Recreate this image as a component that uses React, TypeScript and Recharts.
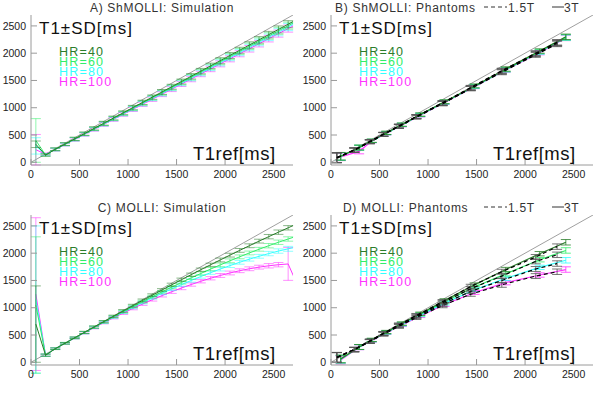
import React from "react";
import { LineChart, Line, XAxis, YAxis, ErrorBar } from "recharts";

// simulation T1 grid (ms); the last point lies past the axis and is clipped
const simT1 = [50, 150, 250, 350, 450, 550, 650, 750, 850, 950, 1050, 1150, 1250, 1350, 1450, 1550, 1650, 1750, 1850, 1950, 2050, 2150, 2250, 2350, 2450, 2550, 2650, 2750];

// A) ShMOLLI simulation
const shSim40 = [330, 130, 239, 334, 430, 525, 621, 716, 812, 907, 1003, 1098, 1194, 1289, 1385, 1480, 1576, 1671, 1767, 1862, 1958, 2053, 2149, 2244, 2340, 2435, 2531, 2626];
const shSim60 = [400, 135, 236, 331, 425, 520, 614, 709, 803, 898, 992, 1087, 1181, 1276, 1370, 1465, 1559, 1654, 1748, 1843, 1937, 2032, 2126, 2221, 2315, 2410, 2504, 2599];
const shSim80 = [300, 140, 234, 327, 421, 514, 608, 701, 795, 888, 982, 1075, 1169, 1262, 1356, 1449, 1543, 1636, 1730, 1823, 1917, 2010, 2104, 2197, 2291, 2384, 2478, 2571];
const shSim100 = [230, 150, 231, 324, 416, 509, 601, 694, 786, 879, 971, 1064, 1156, 1249, 1341, 1434, 1526, 1619, 1711, 1804, 1896, 1989, 2081, 2174, 2266, 2359, 2451, 2544];
const errShSim = [0, 20, 25, 25, 30, 30, 30, 35, 35, 35, 40, 40, 40, 45, 45, 45, 50, 50, 50, 55, 55, 55, 60, 60, 60, 65, 65];
const errShSimFirst = [60, 400, 150, 280];

// C) MOLLI simulation
const moSim40 = [700, 130, 248, 348, 449, 548, 647, 746, 844, 941, 1038, 1135, 1230, 1325, 1420, 1513, 1605, 1697, 1787, 1876, 1964, 2051, 2136, 2221, 2303, 2385, 2465, 2545];
const moSim60 = [1050, 130, 249, 349, 447, 545, 642, 739, 834, 928, 1021, 1112, 1203, 1291, 1378, 1463, 1547, 1628, 1708, 1785, 1860, 1933, 2004, 2072, 2137, 2200, 2260, 2318];
const moSim80 = [1150, 130, 249, 348, 446, 543, 639, 733, 826, 918, 1007, 1095, 1181, 1264, 1345, 1423, 1499, 1572, 1642, 1709, 1772, 1833, 1890, 1943, 1993, 2039, 2080, 2118];
const moSim100 = [1250, 130, 249, 347, 444, 540, 633, 725, 815, 902, 987, 1068, 1147, 1222, 1293, 1361, 1425, 1485, 1540, 1591, 1637, 1678, 1714, 1744, 1769, 1789, 1802, 1400];
const errMoSim = [0, 20, 15, 15, 15, 20, 20, 20, 20, 25, 25, 25, 25, 25, 30, 30, 30, 30, 30, 35, 35, 35, 35, 35, 40, 40, 40];
const errMoSimFirst = [700, 1250, 1350, 1400];
const errMoSimLast = [40, 40, 45, 300];

// phantoms, T1ref (ms)
const ph15T1 = [60, 240, 400, 540, 700, 880, 1150, 1440, 1760, 2110, 2330];
const ph3T1 = [100, 290, 420, 570, 730, 920, 1170, 1480, 1800, 2150, 2420];
const errPh15 = [90, 40, 35, 35, 35, 35, 40, 40, 45, 45, 50];
const errPh3 = [70, 45, 30, 30, 30, 30, 35, 35, 40, 40, 50];

// B) ShMOLLI phantoms
const shPh15_40 = [85, 225, 380, 515, 665, 840, 1090, 1370, 1680, 2000, 2200];
const shPh15_60 = [85, 224, 378, 513, 662, 836, 1085, 1362, 1670, 1990, 2190];
const shPh15_80 = [83, 222, 376, 510, 658, 832, 1080, 1355, 1660, 1980, 2180];
const shPh15_100 = [80, 220, 374, 508, 655, 828, 1075, 1350, 1650, 1970, 2170];
const shPh3_40 = [110, 270, 395, 540, 690, 875, 1110, 1400, 1710, 2040, 2300];
const shPh3_60 = [108, 268, 393, 537, 687, 870, 1105, 1395, 1700, 2030, 2290];
const shPh3_80 = [105, 266, 390, 534, 684, 866, 1100, 1390, 1695, 2020, 2285];
const shPh3_100 = [100, 200, 388, 531, 680, 862, 1095, 1385, 1690, 2010, 2280];

// D) MOLLI phantoms
const moPh15_40 = [90, 235, 390, 530, 685, 860, 1110, 1390, 1660, 1930, 2120];
const moPh15_60 = [90, 235, 388, 527, 678, 850, 1090, 1350, 1580, 1850, 1970];
const moPh15_80 = [90, 232, 384, 520, 668, 835, 1065, 1300, 1500, 1710, 1810];
const moPh15_100 = [85, 230, 380, 515, 658, 820, 1040, 1250, 1420, 1580, 1660];
const moPh3_40 = [60, 280, 410, 555, 710, 890, 1130, 1420, 1700, 1990, 2200];
const moPh3_60 = [60, 280, 408, 552, 705, 880, 1110, 1380, 1620, 1880, 2050];
const moPh3_80 = [55, 278, 404, 546, 695, 865, 1085, 1330, 1540, 1740, 1870];
const moPh3_100 = [40, 275, 400, 540, 685, 850, 1060, 1280, 1460, 1600, 1700];

const hrNames = ["HR=40", "HR=60", "HR=80", "HR=100"];
const hrColors = ["#2b7d2b", "#33ee6a", "#33ffff", "#ff33ff"];
const majorTicks = [0, 500, 1000, 1500, 2000, 2500];
const minorTicks = [0, 100, 200, 300, 400, 500, 600, 700, 800, 900, 1000, 1100, 1200, 1300, 1400, 1500, 1600, 1700, 1800, 1900, 2000, 2100, 2200, 2300, 2400, 2500, 2600, 2700];
const diagT1 = [0, 2700];

const FONT = "'Liberation Sans', Arial, sans-serif";
const XD = [0, 2700];
const YD = [-50, 2700];

type Pt = { x: number; y: number; e?: number };
type Ser = { id: string; data: Pt[]; color: string; errColor: string; errOpacity: number; width: number; dash?: string };

const pts = (xs: number[], ys: number[], es: (number | undefined)[]): Pt[] => xs.map((x, i) => ({ x, y: ys[i], e: es[i] }));

function simSeries(prefix: string, ys: number[][], errs: number[], first: number[], last?: number[]): Ser[] {
  // HR=100 first so HR=40 sits on top
  return [3, 2, 1, 0].map((k) => ({
    id: prefix + k,
    data: pts(simT1, ys[k], simT1.map((_, i) => (i === 0 ? first[k] : last && i === 26 ? last[k] : errs[i]))),
    color: hrColors[k],
    errColor: hrColors[k],
    errOpacity: 0.55,
    width: 1,
  }));
}

function phantomSeries(prefix: string, y15: number[][], y3: number[][]): Ser[] {
  const solid = [3, 2, 1, 0].map((k) => ({
    id: prefix + "3T" + k,
    data: pts(ph3T1, y3[k], errPh3),
    color: hrColors[k],
    errColor: hrColors[k],
    errOpacity: 0.8,
    width: 1.2,
  }));
  const dashed = [3, 2, 1, 0].map((k) => ({
    id: prefix + "15T" + k,
    data: pts(ph15T1, y15[k], errPh15),
    color: "#000",
    errColor: "#555",
    errOpacity: 0.8,
    width: 1.2,
    dash: "4 3",
  }));
  return [...solid, ...dashed];
}

const panelA = simSeries("a", [shSim40, shSim60, shSim80, shSim100], errShSim, errShSimFirst);
const panelC = simSeries("c", [moSim40, moSim60, moSim80, moSim100], errMoSim, errMoSimFirst, errMoSimLast);
const panelB = phantomSeries("b", [shPh15_40, shPh15_60, shPh15_80, shPh15_100], [shPh3_40, shPh3_60, shPh3_80, shPh3_100]);
const panelD = phantomSeries("d", [moPh15_40, moPh15_60, moPh15_80, moPh15_100], [moPh3_40, moPh3_60, moPh3_80, moPh3_100]);

const tickText = { fill: "#222", fontSize: 10.5, fontFamily: FONT };

function Panel({ left, top, title, titleX, centred, fields, series }: {
  left: number; top: number; title: string; titleX: number; centred: boolean; fields: boolean; series: Ser[];
}) {
  const diag = diagT1.map((v) => ({ x: v, y: v }));
  return (
    <div style={{ position: "absolute", left, top, width: 300, height: 200 }}>
      <LineChart width={300} height={200} margin={{ top: 15, right: 7, bottom: 0, left: 0 }}>
        <XAxis xAxisId="b" type="number" dataKey="x" domain={XD} allowDataOverflow ticks={majorTicks} interval={0}
          tickSize={-6} tickMargin={12} stroke="#9a9a9a" tick={tickText} height={35} />
        <XAxis xAxisId="bm" type="number" dataKey="x" domain={XD} ticks={minorTicks} interval={0}
          tickSize={-3} tick={false} axisLine={false} stroke="#b0b0b0" height={0} />
        <XAxis xAxisId="t" orientation="top" type="number" dataKey="x" domain={XD} ticks={majorTicks} interval={0}
          tickSize={-6} tick={false} stroke="#9a9a9a" height={0} />
        <XAxis xAxisId="tm" orientation="top" type="number" dataKey="x" domain={XD} ticks={minorTicks} interval={0}
          tickSize={-3} tick={false} axisLine={false} stroke="#b0b0b0" height={0} />
        <YAxis yAxisId="l" type="number" domain={YD} allowDataOverflow ticks={majorTicks} interval={0}
          tickSize={-6} tickMargin={11} stroke="#9a9a9a" tick={tickText} width={31} />
        <YAxis yAxisId="lm" type="number" domain={YD} ticks={minorTicks} interval={0}
          tickSize={-3} tick={false} axisLine={false} stroke="#b0b0b0" width={0} />
        <YAxis yAxisId="r" orientation="right" type="number" domain={YD} ticks={majorTicks} interval={0}
          tickSize={-6} tick={false} stroke="#9a9a9a" width={0} />
        <YAxis yAxisId="rm" orientation="right" type="number" domain={YD} ticks={minorTicks} interval={0}
          tickSize={-3} tick={false} axisLine={false} stroke="#b0b0b0" width={0} />
        <Line xAxisId="b" yAxisId="l" data={diag} dataKey="y" type="linear" stroke="#a0a0a0" strokeWidth={1}
          dot={false} isAnimationActive={false} />
        {series.map((s) => (
          <Line key={s.id} xAxisId="b" yAxisId="l" data={s.data} dataKey="y" type="linear" stroke={s.color}
            strokeWidth={s.width} strokeDasharray={s.dash} dot={false} isAnimationActive={false}>
            <ErrorBar dataKey="e" direction="y" width={5} stroke={s.errColor} strokeWidth={1} strokeOpacity={s.errOpacity} />
          </Line>
        ))}
      </LineChart>
      <svg width={300} height={200} style={{ position: "absolute", left: 0, top: 0, pointerEvents: "none" }} fontFamily={FONT}>
        <text x={titleX} y={11.5} fontSize={12} letterSpacing={0.7} fill="#333" textAnchor={centred ? "middle" : "start"}>{title}</text>
        {fields && (
          <g>
            <line x1={184} x2={207} y1={7} y2={7} stroke="#333" strokeWidth={1} strokeDasharray="4 3" />
            <text x={208} y={11.5} fontSize={12} letterSpacing={0.7} fill="#333">1.5T</text>
            <line x1={252} x2={264} y1={7} y2={7} stroke="#333" strokeWidth={1} />
            <text x={264} y={11.5} fontSize={12} letterSpacing={0.7} fill="#333">3T</text>
          </g>
        )}
        <text x={39} y={34} fontSize={17} letterSpacing={1} fill="#111">T1±SD[ms]</text>
        {hrNames.map((n, i) => (
          <text key={n} x={59} y={55.5 + i * 10} fontSize={12.5} letterSpacing={1.2} fill={hrColors[i]}>{n}</text>
        ))}
        <text x={193} y={160} fontSize={18.5} letterSpacing={0.5} fill="#111">T1ref[ms]</text>
      </svg>
    </div>
  );
}

export default function App() {
  return (
    <div style={{ position: "absolute", left: 0, top: 0, width: 600, height: 400, background: "#fff" }}>
      <Panel left={0} top={0} title="A) ShMOLLI: Simulation" titleX={162} centred fields={false} series={panelA} />
      <Panel left={300} top={0} title="B) ShMOLLI: Phantoms" titleX={35} centred={false} fields series={panelB} />
      <Panel left={0} top={200} title="C) MOLLI: Simulation" titleX={162} centred fields={false} series={panelC} />
      <Panel left={300} top={200} title="D) MOLLI: Phantoms" titleX={43} centred={false} fields series={panelD} />
    </div>
  );
}
